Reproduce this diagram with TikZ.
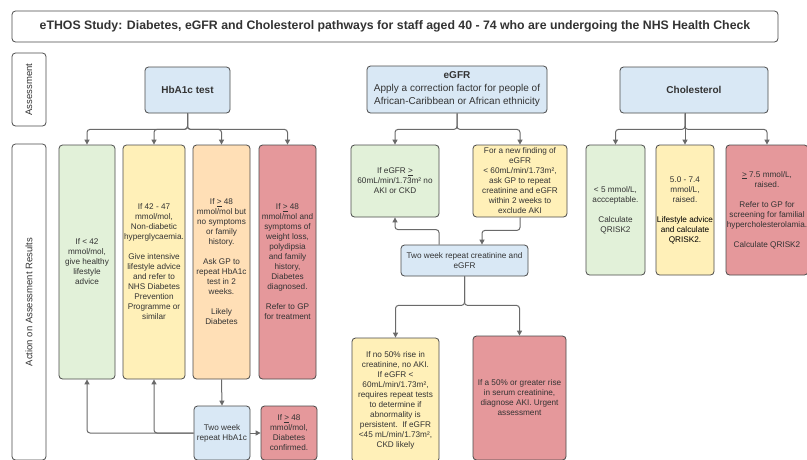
\documentclass[tikz,border=0pt]{standalone}
\usepackage{fontspec}
\setmainfont{Liberation Sans}
\usetikzlibrary{arrows.meta}
\definecolor{gr}{HTML}{E2F1D9}
\definecolor{yl}{HTML}{FFF0B8}
\definecolor{orn}{HTML}{FFDFB6}
\definecolor{rd}{HTML}{E5989B}
\definecolor{bl}{HTML}{D9E8F5}
\definecolor{strk}{HTML}{4A4A4A}
\definecolor{txt}{HTML}{333333}
\definecolor{arrc}{HTML}{6A6A6A}
\tikzset{
  box/.style={draw=strk, line width=0.8pt, rounded corners=3.5pt, inner sep=0pt, align=center, text=txt,
    font=\fontsize{8.2}{10}\selectfont},
  arr/.style={draw=arrc, line width=1pt, rounded corners=3pt, -{Triangle[length=5pt,width=5pt]}},
  lnk/.style={draw=arrc, line width=1pt, rounded corners=3pt}
}
\begin{document}
\begin{tikzpicture}[x=1pt,y=-1pt]
\useasboundingbox (0,0) rectangle (807,459);
\clip (0,0) rectangle (807,459);
\fill[white] (0,0) rectangle (807,459);

% title and side labels
\node[box, fill=white, minimum width=766, minimum height=31, font=\bfseries\fontsize{12.3}{14}\selectfont] (title) at (395,26.5)
 {eTHOS Study: Diabetes, eGFR and Cholesterol pathways for staff aged 40 - 74 who are undergoing the NHS Health Check};
\node[box, fill=white, rotate=90, minimum width=73, minimum height=34, font=\fontsize{9.5}{11}\selectfont] (lab1) at (29,89.5) {Assessment};
\node[box, fill=white, rotate=90, minimum width=316, minimum height=34, font=\fontsize{9.5}{11}\selectfont] (lab2) at (29,302) {Action on Assessment Results};

% assessment boxes
\node[box, fill=bl, minimum width=85, minimum height=46, font=\bfseries\fontsize{10}{12}\selectfont] (hba) at (187.5,90) {HbA1c test};
\node[box, fill=bl, minimum width=180, minimum height=47, font=\fontsize{10}{13}\selectfont] (egfr) at (457,89.5) {\textbf{eGFR}\\Apply a correction factor for people of\\African-Caribbean or African ethnicity};
\node[box, fill=bl, minimum width=148, minimum height=46, font=\bfseries\fontsize{10}{12}\selectfont] (chol) at (694,90) {Cholesterol};

% HbA1c results
\node[box, fill=gr, minimum width=56, minimum height=234] (h1) at (87,262) {If < 42\\mmol/mol,\\give healthy\\lifestyle\\advice};
\node[box, fill=yl, minimum width=62, minimum height=234] (h2) at (154,262) {If 42 - 47\\mmol/mol,\\Non-diabetic\\hyperglycaemia.\\[10pt]Give intensive\\lifestyle advice\\and refer to\\NHS Diabetes\\Prevention\\Programme or\\similar};
\node[box, fill=orn, minimum width=57, minimum height=234] (h3) at (221.5,262) {If \underline{>} 48\\mmol/mol but\\no symptoms\\or family\\history.\\[10pt]Ask GP to\\repeat HbA1c\\test in 2\\weeks.\\[10pt]Likely\\Diabetes};
\node[box, fill=rd, minimum width=57, minimum height=234] (h4) at (287.5,262) {If \underline{>} 48\\mmol/mol and\\symptoms of\\weight loss,\\polydipsia\\and family\\history,\\Diabetes\\diagnosed.\\[10pt]Refer to GP\\for treatment};
\node[box, fill=bl, minimum width=56, minimum height=54] (h5) at (222,433) {Two week\\repeat HbA1c};
\node[box, fill=rd, minimum width=56, minimum height=54] (h6) at (289,433) {If \underline{>} 48\\mmol/mol,\\Diabetes\\confirmed.};

% eGFR results
\node[box, fill=gr, minimum width=88, minimum height=72] (e1) at (395,181) {If eGFR \underline{>}\\60mL/min/1.73m² no\\AKI or CKD};
\node[box, fill=yl, minimum width=94, minimum height=72] (e2) at (520,181) {For a new finding of\\eGFR\\< 60mL/min/1.73m²,\\ask GP to repeat\\creatinine and eGFR\\within 2 weeks to\\exclude AKI};
\node[box, fill=bl, minimum width=127, minimum height=31] (e3) at (464.5,260.5) {Two week repeat creatinine and\\eGFR};
\node[box, fill=yl, minimum width=87, minimum height=124] (e4) at (395.5,400) {If no 50\% rise in\\creatinine, no AKI.\\If eGFR <\\60mL/min/1.73m²,\\requires repeat tests\\to determine if\\abnormality is\\persistent.\ \ If eGFR\\<45 mL/min/1.73m²,\\CKD likely};
\node[box, fill=rd, minimum width=93, minimum height=124] (e5) at (519.5,398) {If a 50\% or greater rise\\in serum creatinine,\\diagnose AKI. Urgent\\assessment};

% Cholesterol results
\node[box, fill=gr, minimum width=59, minimum height=130] (c1) at (615.5,210) {< 5 mmol/L,\\accceptable.\\[10pt]Calculate\\QRISK2};
\node[box, fill=yl, minimum width=58, minimum height=130] (c2) at (685,210) {5.0 - 7.4\\mmol/L,\\raised.\\[10pt]{\color{black}Lifestyle advice}\\{\color{black}and calculate}\\{\color{black}QRISK2.}};
\node[box, fill=rd, minimum width=82, minimum height=130] (c3) at (767,210) {\underline{>} 7.5 mmol/L,\\raised.\\[10pt]Refer to GP for\\screening for familial\\hypercholesterolamia.\\[10pt]Calculate QRISK2};

% HbA1c connectors
\draw[arr] (hba.south) -- ++(0,16) -| (h1.north);
\draw[arr] (hba.south) -- ++(0,16) -| (h2.north);
\draw[arr] (hba.south) -- ++(0,16) -| (h3.north);
\draw[arr] (hba.south) -- ++(0,16) -| (h4.north);
\draw[arr] (h3.south) -- (h5.north);
\draw[arr] (h5.west) -| (h1.south);
\draw[arr] (h5.west) -| (h2.south);
\draw[arr] (h5.east) -- (h6.west);

% eGFR connectors
\draw[arr] (egfr.south) -- ++(0,16) -| (e1.north);
\draw[arr] (egfr.south) -- ++(0,16) -| (e2.north);
\draw[arr] ([xshift=-25.5pt]e3.north) -- ++(0,-15) -| (e1.south);
\draw[arr] (e2.south) -- ++(0,13) -| ([xshift=17.5pt]e3.north);
\draw[arr] (e3.south) -- ++(0,29) -| (e4.north);
\draw[arr] (e3.south) -- ++(0,29) -| (e5.north);

% Cholesterol connectors
\coordinate (cs) at (chol.south -| c2.north);
\draw[arr] (cs) -- ++(0,16) -| (c1.north);
\draw[arr] (cs) -- (c2.north);
\draw[arr] (cs) -- ++(0,16) -| (c3.north);
\end{tikzpicture}
\end{document}
